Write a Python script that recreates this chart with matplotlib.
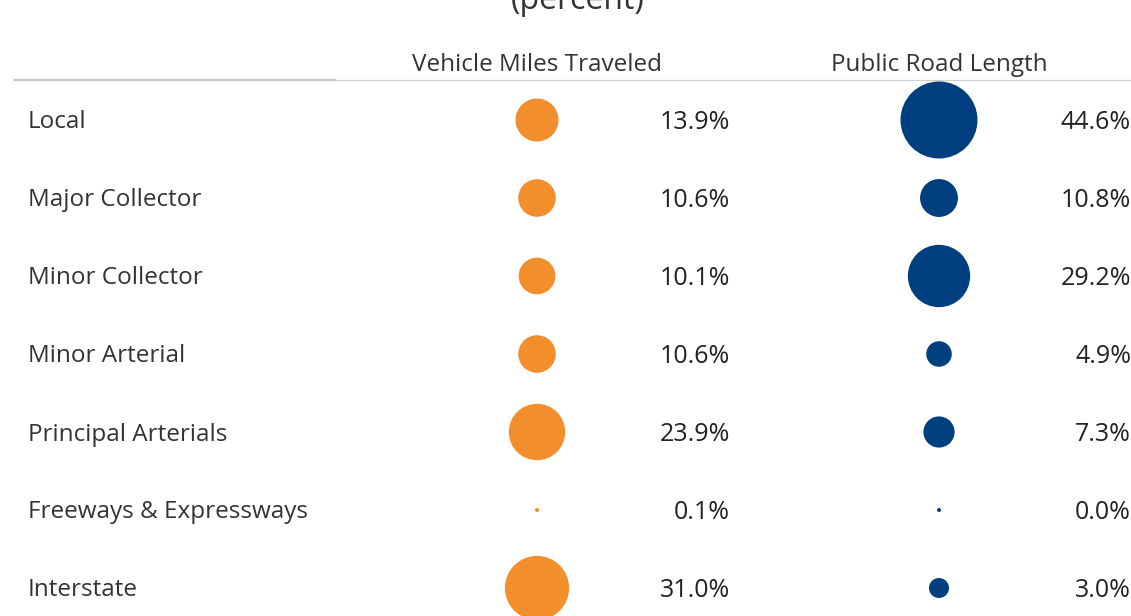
import matplotlib
matplotlib.use("Agg")
import matplotlib.pyplot as plt
from matplotlib.lines import Line2D

categories = ["Local", "Major Collector", "Minor Collector", "Minor Arterial",
              "Principal Arterials", "Freeways & Expressways", "Interstate"]
vmt = [13.9, 10.6, 10.1, 10.6, 23.9, 0.1, 31.0]
road_length = [44.6, 10.8, 29.2, 4.9, 7.3, 0.0, 3.0]
headers = ["Vehicle Miles Traveled", "Public Road Length"]
title = "(percent)"

W, H = 1131, 616
DPI = 100
fig = plt.figure(figsize=(W / DPI, H / DPI), dpi=DPI)
ax = fig.add_axes([0, 0, 1, 1])
ax.set_xlim(0, W)
# row i centre at 120 + 78*i pixels
ax.set_ylim((H - 120) / 78, -120 / 78)
ax.axis("off")

ORANGE = "#F28E2B"
BLUE = "#003F7F"
FONT = "Open Sans"
dy = 2.5 / 78  # small downward nudge of text

k_px = 43 / (13.9 ** 0.5)  # diameter in px per sqrt(percent)
def size_pts2(v):
    d = max(k_px * v ** 0.5, 4.0) * 72 / DPI
    return d ** 2

rows = list(range(len(categories)))
col_x = [537, 939]
val_x = [730, 1131]
for c, (vals, colr) in enumerate([(vmt, ORANGE), (road_length, BLUE)]):
    ax.scatter([col_x[c]] * len(vals), rows, s=[size_pts2(v) for v in vals],
               color=colr, edgecolors="none", zorder=3)
    for i, v in enumerate(vals):
        ax.text(val_x[c], i + dy, f"{v:.1f}%", ha="right", va="center",
                fontsize=18, color="#222222", family=FONT)
    ax.text(col_x[c], -0.74 + dy, headers[c], ha="center", va="center",
            fontsize=17.5, color="#333333", family=FONT)

for i, cat in enumerate(categories):
    ax.text(28, i + dy, cat, ha="left", va="center", fontsize=17.5,
            color="#333333", family=FONT)

yl = -40 / 78
ax.add_line(Line2D([15, 335], [yl, yl], color="#c8c8c8", lw=1.6))
ax.add_line(Line2D([335, 1131], [yl, yl], color="#d0d0d0", lw=0.9))

ax.text(578, -120 / 78 + 17 / 78, title, ha="center", va="bottom",
        fontsize=23, color="#333333", family=FONT)

fig.savefig("out.png", dpi=DPI)
